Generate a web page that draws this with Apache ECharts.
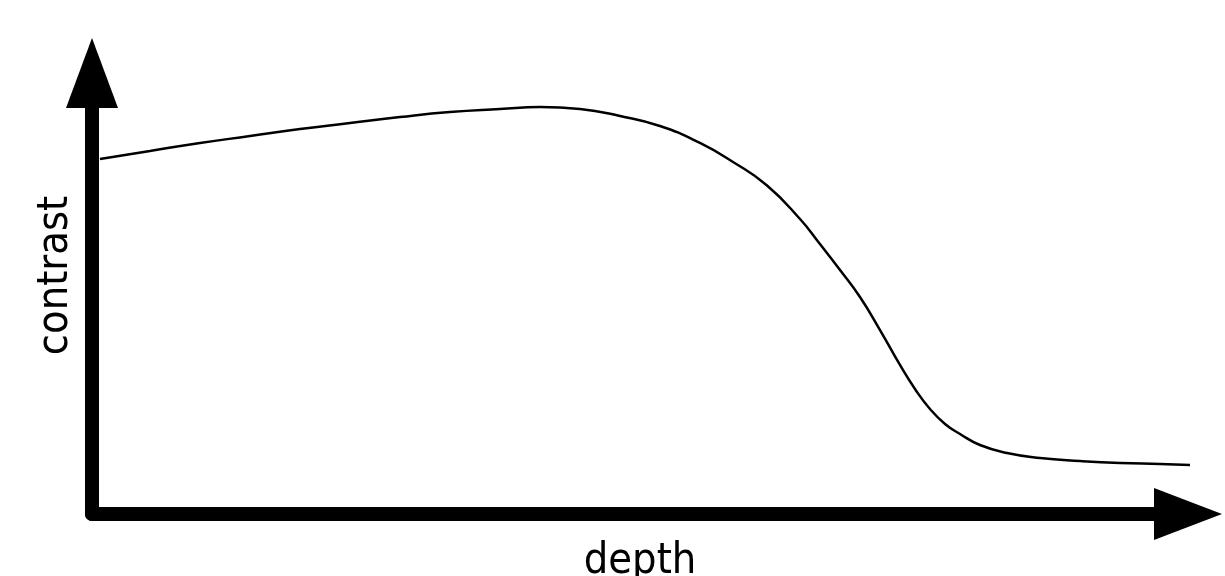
<!DOCTYPE html>
<html>
<head>
<meta charset="utf-8">
<script src="https://cdn.jsdelivr.net/npm/echarts@6/dist/echarts.min.js"></script>
<style>
html,body{margin:0;padding:0;background:#fff;}
#chart{width:1225px;height:576px;}
</style>
</head>
<body>
<div id="chart"></div>
<script>
const depthValues = [0.73, 5.29, 9.85, 14.42, 18.98, 23.54, 28.10, 32.66, 37.23, 40.88, 44.53, 48.18, 51.82, 55.47, 58.49, 61.59, 64.60, 66.42, 68.25, 70.07, 71.90, 73.72, 75.09, 76.46, 77.83, 79.20, 81.02, 83.49, 86.50, 90.15, 93.80, 97.45, 100.36];
const contrastValues = [80.50, 82.31, 84.13, 85.71, 87.30, 88.66, 90.02, 91.16, 91.84, 92.29, 91.84, 90.25, 87.98, 84.13, 79.82, 74.49, 66.89, 61.22, 55.33, 49.21, 41.72, 33.79, 28.34, 23.81, 20.41, 18.14, 15.65, 13.83, 12.70, 12.02, 11.56, 11.34, 11.11];
const xAxisName = 'depth';
const yAxisName = 'contrast';

const seriesData = depthValues.map((d, i) => [d, contrastValues[i]]);
const font = "'DejaVu Sans Condensed', 'Liberation Sans Narrow', sans-serif";

const chart = echarts.init(document.getElementById('chart'), null, {renderer: 'canvas'});
chart.setOption({
  backgroundColor: '#ffffff',
  animation: false,
  grid: {left: 92, right: 37, top: 73, bottom: 62, containLabel: false, outerBoundsMode: 'none'},
  xAxis: {
    type: 'value', min: 0, max: 100,
    name: xAxisName, nameLocation: 'middle', nameGap: 26,
    nameTextStyle: {color: '#000', fontSize: 43, fontFamily: font},
    axisLine: {show: true, onZero: true, symbol: ['none', 'triangle'], symbolSize: [52, 68],
      lineStyle: {color: '#000', width: 14, cap: 'round'}},
    axisTick: {show: false}, axisLabel: {show: false}, splitLine: {show: false}
  },
  yAxis: {
    type: 'value', min: 0, max: 100,
    name: yAxisName, nameLocation: 'middle', nameGap: 15, nameRotate: 90,
    nameTextStyle: {color: '#000', fontSize: 43, fontFamily: font, padding: [0, 0, 0, 36]},
    axisLine: {show: true, onZero: true, symbol: ['none', 'triangle'], symbolSize: [52, 70],
      lineStyle: {color: '#000', width: 14, cap: 'round'}},
    axisTick: {show: false}, axisLabel: {show: false}, splitLine: {show: false}
  },
  series: [{
    type: 'line', data: seriesData, smooth: 0.5, showSymbol: false, clip: false,
    lineStyle: {color: '#000', width: 2.5}, z: 1
  }]
});
</script>
</body>
</html>
